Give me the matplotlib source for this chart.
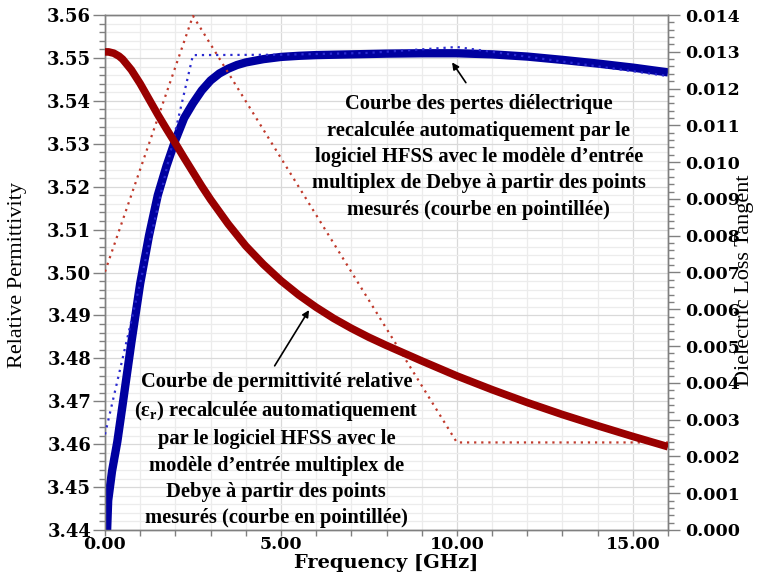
import matplotlib
matplotlib.use("Agg")
import matplotlib.pyplot as plt
from matplotlib.ticker import MultipleLocator, FormatStrFormatter

# ---- data ----
freq_eps = [0.0, 0.1, 0.25, 0.4, 0.5, 0.75, 1.0, 1.25, 1.5, 1.75, 2.0, 2.25, 2.5, 2.75,
            3.0, 3.5, 4.0, 4.5, 5.0, 5.5, 6.0, 6.5, 7.0, 7.5, 8.0, 9.0, 10.0, 11.0,
            12.0, 13.0, 14.0, 15.0, 16.0]
eps_fit = [3.5514, 3.5514, 3.5511, 3.5504, 3.5497, 3.5472, 3.5440, 3.5404, 3.5368, 3.5334,
           3.5301, 3.5267, 3.5234, 3.5201, 3.5170, 3.5113, 3.5062, 3.5019, 3.4981, 3.4948,
           3.4919, 3.4893, 3.4870, 3.4849, 3.4830, 3.4794, 3.4759, 3.4727, 3.4697, 3.4669,
           3.4643, 3.4618, 3.4594]

freq_tan = [0.06, 0.09, 0.2, 0.35, 0.5, 0.75, 1.0, 1.25, 1.5, 1.75, 2.0, 2.25, 2.5, 2.75,
            3.0, 3.25, 3.5, 3.75, 4.0, 4.5, 5.0, 5.5, 6.0, 7.0, 8.0, 9.0, 10.0, 11.0, 12.0,
            13.0, 14.0, 15.0, 16.0]
tan_fit = [0.0, 0.0008, 0.0016, 0.0024, 0.0034, 0.0051, 0.0067, 0.0080, 0.0091, 0.0099,
           0.0106, 0.0112, 0.01160, 0.01195, 0.01222, 0.01241, 0.01254, 0.01264, 0.01271,
           0.01280, 0.01286, 0.01289, 0.01291, 0.01293, 0.01295, 0.01296, 0.01296,
           0.01293, 0.01287, 0.01278, 0.01268, 0.01257, 0.01244]

freq_meas_eps = [0.0, 2.5, 10.0, 16.0]
eps_meas = [3.5002, 3.5598, 3.4604, 3.4604]

freq_meas_tan = [0.0, 2.5, 5.0, 7.5, 10.0, 16.0]
tan_meas = [0.0026, 0.01291, 0.01292, 0.01297, 0.01313, 0.01234]

x_ticks = [0, 5, 10, 15]

text_tan = ("Courbe des pertes diélectrique\n"
            "recalculée automatiquement par le\n"
            "logiciel HFSS avec le modèle d’entrée\n"
            "multiplex de Debye à partir des points\n"
            "mesurés (courbe en pointillée)")
text_eps = ("Courbe de permittivité relative\n"
            "(ε$_\\mathregular{r}$) recalculée automatiquement\n"
            "par le logiciel HFSS avec le\n"
            "modèle d’entrée multiplex de\n"
            "Debye à partir des points\n"
            "mesurés (courbe en pointillée)")

RED = "#990000"
RED_DOT = "#c0392b"
BLUE = "#0000a0"
BLUE_DOT = "#2a2ad0"
SPINE = "#808080"

fig = plt.figure(figsize=(7.57, 5.73), dpi=100)
ax = fig.add_axes([105/757, 43/573, 563/757, 515/573])
ax2 = ax.twinx()

ax.set_xlim(0, 16)
ax.set_ylim(3.44, 3.56)
ax2.set_ylim(0.0, 0.014)

ax.xaxis.set_major_locator(MultipleLocator(5))
ax.xaxis.set_minor_locator(MultipleLocator(1))
ax.yaxis.set_major_locator(MultipleLocator(0.01))
ax.yaxis.set_minor_locator(MultipleLocator(0.002))
ax2.yaxis.set_major_locator(MultipleLocator(0.001))
ax2.yaxis.set_minor_locator(MultipleLocator(0.0002))
ax.set_xticks(x_ticks)
ax.xaxis.set_major_formatter(FormatStrFormatter("%.2f"))
ax.yaxis.set_major_formatter(FormatStrFormatter("%.2f"))
ax2.yaxis.set_major_formatter(FormatStrFormatter("%.3f"))

ax.set_axisbelow(True)
ax.grid(which="major", color="#d9d9d9", lw=0.9)
ax.grid(which="minor", color="#ececec", lw=0.9)

# blue (loss tangent) on right axis
ax2.plot(freq_tan, tan_fit, color=BLUE, lw=6.0, solid_capstyle="butt",
         solid_joinstyle="round", zorder=2)
ax2.plot(freq_meas_tan, tan_meas, color=BLUE_DOT, lw=1.6, ls=(0, (1, 2.2)), zorder=3)
# red (permittivity) on left axis scale, drawn above blue
ax2.plot(freq_meas_eps, eps_meas, color=RED_DOT, lw=1.6, ls=(0, (1, 2.2)),
         transform=ax.transData, zorder=4)
ax2.plot(freq_eps, eps_fit, color=RED, lw=5.5, solid_capstyle="butt",
         solid_joinstyle="round", transform=ax.transData, zorder=5)
ax2.set_ylim(0.0, 0.014)
ax2.set_xlim(0, 16)

for a in (ax, ax2):
    for s in a.spines.values():
        s.set_color(SPINE)
        s.set_linewidth(1.0)
ax.tick_params(axis="y", which="major", length=8.5, width=1, color=SPINE, pad=1.5)
ax.tick_params(axis="y", which="minor", length=4, width=1, color=SPINE)
ax.tick_params(axis="x", which="both", length=4, width=1, color=SPINE, pad=0.5)
ax2.tick_params(axis="y", which="major", length=8.5, width=1, color=SPINE, pad=3.5)
ax2.tick_params(axis="y", which="minor", length=4, width=1, color=SPINE)
for lab in ax.get_yticklabels():
    lab.set_fontfamily("DejaVu Serif")
    lab.set_fontweight("bold")
    lab.set_fontsize(13)
for lab in ax.get_xticklabels():
    lab.set_fontfamily("DejaVu Serif")
    lab.set_fontweight("bold")
    lab.set_fontsize(12.5)
for lab in ax2.get_yticklabels():
    lab.set_fontfamily("DejaVu Serif")
    lab.set_fontweight("bold")
    lab.set_fontsize(12.5)

fig.text(386/757, 1 - 571.5/573, "Frequency [GHz]", ha="center", va="bottom",
         family="DejaVu Serif", weight="bold", size=14)
fig.text(18/757, 1 - 275/573, "Relative Permittivity", ha="center", va="center",
         rotation=90, family="Liberation Serif", size=16)
fig.text(744/757, 1 - 280/573, "Dielectric Loss Tangent", ha="center", va="center",
         rotation=90, family="Liberation Serif", size=16)

ann_font = dict(family="Liberation Serif", weight="bold", size=14.8)
ax.annotate("", xy=(9.82, 3.5495), xytext=(10.30, 3.5437),
            arrowprops=dict(arrowstyle="-|>", color="black", lw=1.2, mutation_scale=10),
            zorder=10)
ax.annotate("", xy=(5.84, 3.4918), xytext=(4.78, 3.4777),
            arrowprops=dict(arrowstyle="-|>", color="black", lw=1.2, mutation_scale=10),
            zorder=10)
ax.text(10.62, 3.5269, text_tan, ha="center", va="center", ma="center",
        linespacing=1.42, zorder=10, **ann_font)
ax.text(4.87, 3.4586, text_eps, ha="center", va="center", ma="center",
        linespacing=1.42, zorder=10, **ann_font)

fig.savefig("out.png", dpi=100)
